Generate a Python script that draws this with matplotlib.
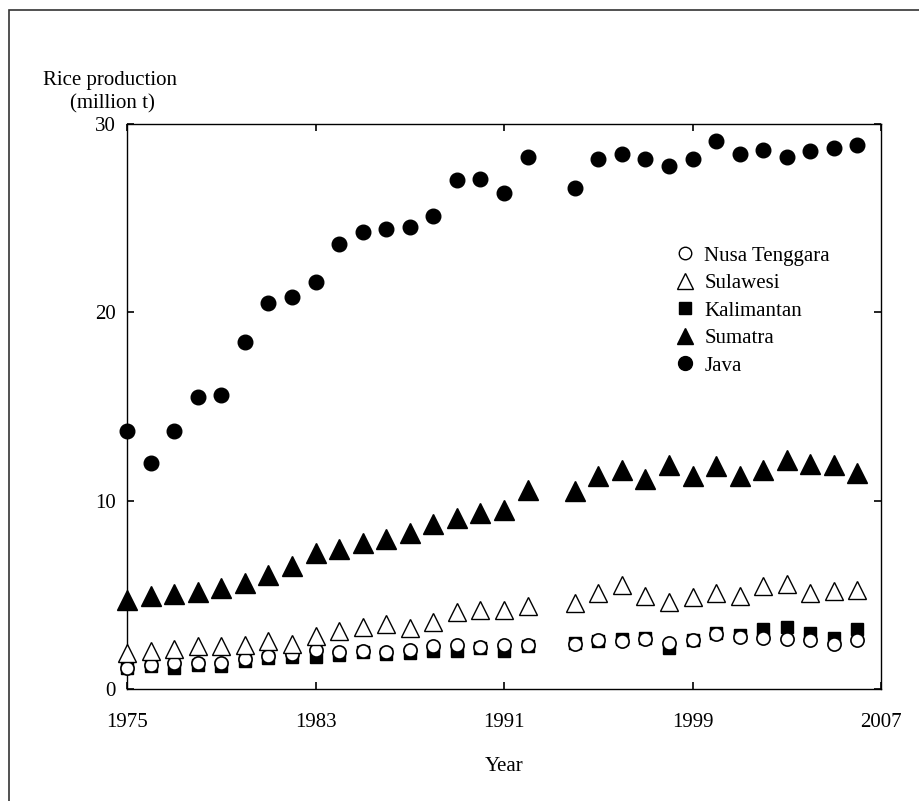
import numpy as np
import matplotlib
matplotlib.use("Agg")
from matplotlib import pyplot as plt
from matplotlib.lines import Line2D
from matplotlib.patches import Rectangle

years = [1975, 1976, 1977, 1978, 1979, 1980, 1981, 1982, 1983, 1984,
         1985, 1986, 1987, 1988, 1989, 1990, 1991, 1992,
         1994, 1995, 1996, 1997, 1998, 1999, 2000, 2001, 2002, 2003,
         2004, 2005, 2006]

java = [13.7, 12.0, 13.7, 15.5, 15.6, 18.4, 20.5, 20.8, 21.6, 23.65,
        24.25, 24.4, 24.55, 25.1, 27.05, 27.1, 26.35, 28.25,
        26.6, 28.15, 28.4, 28.15, 27.75, 28.15, 29.1, 28.4, 28.6, 28.25,
        28.55, 28.7, 28.9]

sumatra = [4.73, 4.96, 5.07, 5.16, 5.35, 5.64, 6.05, 6.54, 7.2, 7.41,
           7.73, 7.96, 8.3, 8.78, 9.06, 9.34, 9.52, 10.58,
           10.5, 11.3, 11.65, 11.13, 11.9, 11.33, 11.86, 11.33, 11.65, 12.18,
           11.97, 11.9, 11.49]

sulawesi = [1.9, 2.02, 2.13, 2.27, 2.27, 2.32, 2.55, 2.38, 2.84, 3.08,
            3.3, 3.44, 3.23, 3.56, 4.1, 4.17, 4.17, 4.43,
            4.56, 5.09, 5.53, 4.93, 4.64, 4.88, 5.1, 4.93, 5.46, 5.57,
            5.09, 5.23, 5.25]

kalimantan = [1.12, 1.22, 1.12, 1.26, 1.2, 1.51, 1.65, 1.69, 1.69, 1.79,
              1.97, 1.86, 1.91, 2.0, 2.0, 2.18, 2.0, 2.29,
              2.43, 2.57, 2.68, 2.7, 2.2, 2.6, 2.96, 2.87, 3.16, 3.28,
              3.0, 2.71, 3.16]

nusa = [1.12, 1.28, 1.36, 1.38, 1.36, 1.6, 1.77, 1.85, 2.07, 1.95,
        2.02, 1.98, 2.06, 2.27, 2.32, 2.23, 2.32, 2.32,
        2.41, 2.59, 2.55, 2.66, 2.45, 2.58, 2.91, 2.78, 2.7, 2.64,
        2.6, 2.41, 2.59]

legend_labels = ["Nusa Tenggara", "Sulawesi", "Kalimantan", "Sumatra", "Java"]
xticks = [1975, 1983, 1991, 1999, 2007]
yticks = [0, 10, 20, 30]

# %% Figure
plt.rcParams['font.family'] = ['Liberation Serif', 'DejaVu Serif']
fig = plt.figure(figsize=(9.2, 8.01), dpi=100)
ax = fig.add_axes([127 / 920, 1 - 689 / 801, 754 / 920, 565 / 801])

# outer frame (cut off at right and bottom like the source)
fig.patches.append(Rectangle((9 / 920, -0.05), 1.1, 1 - 10 / 801 + 0.05,
                             transform=fig.transFigure, fill=False,
                             edgecolor='#333333', linewidth=1.2))

kw = dict(linestyle='', clip_on=False)
ax.plot(years, kalimantan, 's', color='black', markersize=8.5, zorder=3, **kw)
ax.plot(years, nusa, 'o', markerfacecolor='white', markeredgecolor='black',
        markeredgewidth=1.2, markersize=9.5, zorder=4, **kw)
ax.plot(years, sulawesi, '^', markerfacecolor='white', markeredgecolor='black',
        markeredgewidth=1.0, markersize=13, zorder=5, **kw)
ax.plot(years, sumatra, '^', color='black', markersize=14, zorder=5, **kw)
ax.plot(years, java, 'o', color='black', markersize=10.5, zorder=5, **kw)

ax.set_xlim(1975, 2007)
ax.set_ylim(0, 30)
ax.set_xticks(xticks)
ax.set_yticks(yticks)
ax.tick_params(direction='in', length=5, width=1.2, top=True, right=True,
               labelsize=15)
ax.tick_params(axis='x', pad=17)
ax.tick_params(axis='y', pad=8)
for s in ax.spines.values():
    s.set_linewidth(1.0)

ax.set_xlabel('Year', fontsize=15, labelpad=18)
fig.text(110 / 920, 1 - 80 / 801, 'Rice production', fontsize=15,
         ha='center', va='center')
fig.text(112 / 920, 1 - 104 / 801, '(million t)', fontsize=15,
         ha='center', va='center')

# legend
handles = [
    Line2D([], [], ls='', marker='o', markerfacecolor='white',
           markeredgecolor='black', markersize=9),
    Line2D([], [], ls='', marker='^', markerfacecolor='white',
           markeredgecolor='black', markersize=12),
    Line2D([], [], ls='', marker='s', color='black', markersize=9),
    Line2D([], [], ls='', marker='^', color='black', markersize=12),
    Line2D([], [], ls='', marker='o', color='black', markersize=10),
]
ax.legend(handles, legend_labels, loc='upper left',
          bbox_to_anchor=((675 - 127) / 754, (689 - 246) / 565),
          frameon=False, fontsize=15, handlelength=1.0, handletextpad=0.4,
          labelspacing=0.38, borderpad=0, borderaxespad=0)

fig.savefig('out.png', dpi=100)
